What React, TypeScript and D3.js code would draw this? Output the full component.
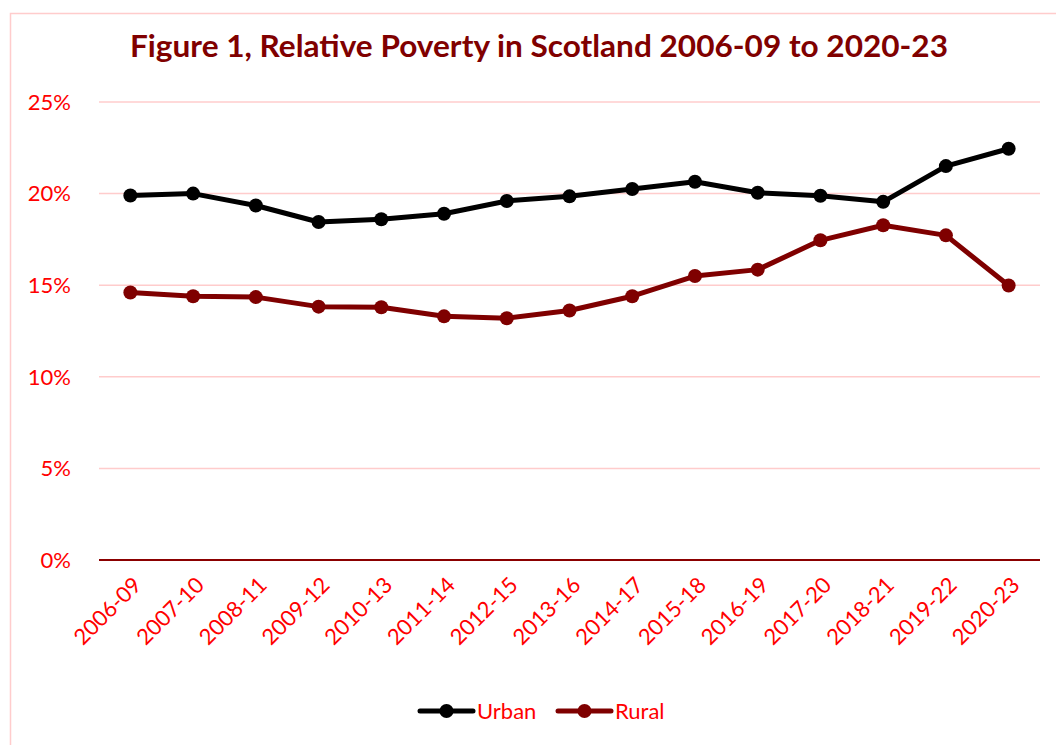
import React, { useEffect, useRef } from "react";
import * as d3 from "d3";

const categories = ["2006-09","2007-10","2008-11","2009-12","2010-13","2011-14","2012-15","2013-16","2014-17","2015-18","2016-19","2017-20","2018-21","2019-22","2020-23"];
const urban = [19.9, 20.0, 19.35, 18.45, 18.6, 18.9, 19.6, 19.85, 20.25, 20.65, 20.05, 19.88, 19.55, 21.5, 22.45];
const rural = [14.6, 14.4, 14.35, 13.83, 13.8, 13.3, 13.2, 13.62, 14.4, 15.5, 15.85, 17.45, 18.27, 17.72, 14.98];
const yTicks = [0, 5, 10, 15, 20, 25];
const title = "Figure 1, Relative Poverty in Scotland 2006-09 to 2020-23";
const seriesNames = ["Urban", "Rural"];
const seriesColors = ["#000000", "#7f0000"];

export default function App() {
  const ref = useRef<SVGSVGElement>(null);
  useEffect(() => {
    const svg = d3.select(ref.current);
    svg.selectAll("*").remove();
    const left = 99, right = 1040, top = 102, bottom = 560;
    const font = "Lato, 'Open Sans', sans-serif";

    svg.append("rect").attr("x", 10.5).attr("y", 13.5).attr("width", 1200).attr("height", 900)
      .attr("fill", "white").attr("stroke", "#ffcccc").attr("stroke-width", 1.5);

    svg.append("text").attr("x", 539).attr("y", 57).attr("text-anchor", "middle")
      .attr("font-family", font).attr("font-weight", 700).attr("font-size", 31)
      .attr("textLength", 818).attr("lengthAdjust", "spacingAndGlyphs")
      .attr("fill", "#800000").text(title);

    const x = d3.scaleBand().domain(categories).range([left, right]);
    const y = d3.scaleLinear().domain([0, 25]).range([bottom, top]);

    const g = svg.append("g");
    yTicks.forEach(t => {
      if (t > 0) {
        g.append("line").attr("x1", left).attr("x2", right).attr("y1", y(t)).attr("y2", y(t))
          .attr("stroke", "#ffcccc").attr("stroke-width", 1.5);
      }
      g.append("text").attr("x", 71).attr("y", y(t)).attr("dy", "0.35em").attr("text-anchor", "end")
        .attr("font-family", font).attr("font-size", 22).attr("fill", "#ff0000").text(t + "%");
    });
    g.append("line").attr("x1", left).attr("x2", right).attr("y1", y(0)).attr("y2", y(0))
      .attr("stroke", "#8b0000").attr("stroke-width", 2);

    categories.forEach(c => {
      const cx = (x(c) as number) + x.bandwidth() / 2;
      g.append("text").attr("transform", `translate(${cx + 7},${y(0) + 21}) rotate(-45)`)
        .attr("text-anchor", "end").attr("dy", "0.35em")
        .attr("font-family", font).attr("font-size", 22).attr("fill", "#ff0000").text(c);
    });

    const line = d3.line<number>()
      .x((_, i) => (x(categories[i]) as number) + x.bandwidth() / 2)
      .y(d => y(d));

    [urban, rural].forEach((data, si) => {
      const col = seriesColors[si];
      g.append("path").datum(data).attr("d", line).attr("fill", "none")
        .attr("stroke", col).attr("stroke-width", 5).attr("stroke-linejoin", "round").attr("stroke-linecap", "round");
      g.selectAll(null).data(data).enter().append("circle")
        .attr("cx", (_, i) => (x(categories[i]) as number) + x.bandwidth() / 2)
        .attr("cy", d => y(d)).attr("r", 7).attr("fill", col);
    });

    const legY = 711;
    const legX = [420, 558];
    seriesNames.forEach((n, i) => {
      const lx = legX[i];
      svg.append("line").attr("x1", lx).attr("x2", lx + 53).attr("y1", legY).attr("y2", legY)
        .attr("stroke", seriesColors[i]).attr("stroke-width", 5).attr("stroke-linecap", "round");
      svg.append("circle").attr("cx", lx + 26.5).attr("cy", legY).attr("r", 7).attr("fill", seriesColors[i]);
      svg.append("text").attr("x", lx + 57).attr("y", legY).attr("dy", "0.35em")
        .attr("font-family", font).attr("font-size", 22).attr("fill", "#ff0000").text(n);
    });
  }, []);
  return (
    <svg ref={ref} width={1056} height={745}
      style={{ position: "absolute", left: 0, top: 0, background: "white" }} />
  );
}
